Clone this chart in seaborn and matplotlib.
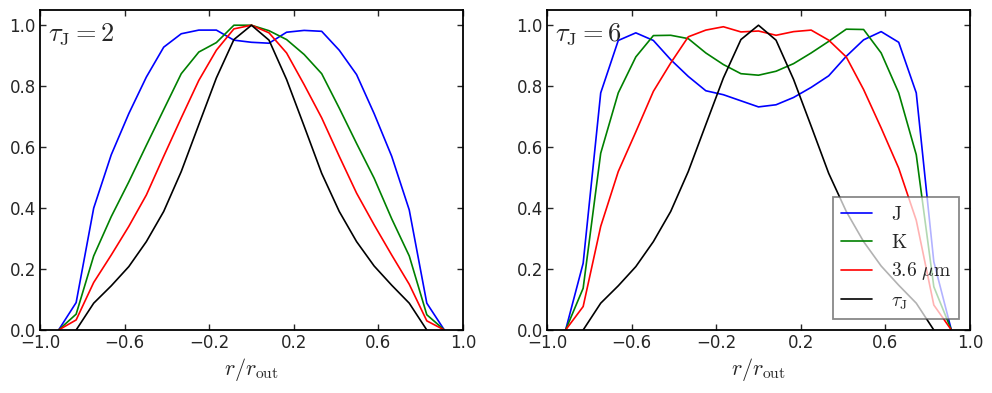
import numpy as np
import pandas as pd
import matplotlib
matplotlib.use("Agg")
import matplotlib.pyplot as plt
import seaborn as sns

sns.set_style("ticks", {"xtick.direction": "in", "ytick.direction": "in"})
plt.rcParams["font.family"] = ["DejaVu Sans"]
plt.rcParams["mathtext.fontset"] = "cm"

# radial grid r / r_out
r = [-0.912, -0.829, -0.746, -0.663, -0.580, -0.497, -0.415, -0.332, -0.249, -0.166, -0.083, 0.0,
     0.083, 0.166, 0.249, 0.332, 0.415, 0.497, 0.580, 0.663, 0.746, 0.829, 0.912]

# tau_J = 2
J2 = [0, 0.09, 0.40, 0.575, 0.71, 0.83, 0.928, 0.972, 0.984, 0.984, 0.951, 0.944,
      0.941, 0.977, 0.983, 0.98, 0.918, 0.838, 0.71, 0.57, 0.394, 0.088, 0]
K2 = [0, 0.052, 0.243, 0.372, 0.486, 0.606, 0.723, 0.841, 0.912, 0.943, 1.0, 1.0,
      0.982, 0.953, 0.904, 0.841, 0.728, 0.612, 0.498, 0.365, 0.243, 0.05, 0]
M2 = [0, 0.033, 0.156, 0.246, 0.34, 0.443, 0.57, 0.696, 0.819, 0.918, 0.988, 1.0,
      0.975, 0.909, 0.805, 0.696, 0.57, 0.449, 0.345, 0.246, 0.15, 0.03, 0]
T2 = [-0.088, 0.0, 0.088, 0.145, 0.208, 0.29, 0.389, 0.52, 0.674, 0.827, 0.953, 1.0,
      0.951, 0.822, 0.669, 0.514, 0.389, 0.29, 0.21, 0.147, 0.088, 0.0, -0.088]

# tau_J = 6
J6 = [0, 0.219, 0.778, 0.95, 0.975, 0.95, 0.887, 0.832, 0.785, 0.772, 0.752, 0.732,
      0.739, 0.763, 0.796, 0.834, 0.898, 0.952, 0.979, 0.944, 0.778, 0.224, 0]
K6 = [0, 0.137, 0.58, 0.778, 0.896, 0.966, 0.967, 0.956, 0.909, 0.871, 0.841, 0.836,
      0.849, 0.874, 0.909, 0.947, 0.987, 0.986, 0.909, 0.778, 0.575, 0.142, 0]
M6 = [0, 0.077, 0.34, 0.52, 0.65, 0.783, 0.876, 0.962, 0.984, 0.995, 0.978, 0.981,
      0.967, 0.979, 0.984, 0.951, 0.896, 0.789, 0.663, 0.531, 0.36, 0.082, 0]
T6 = [-0.088, 0.0, 0.088, 0.145, 0.208, 0.29, 0.389, 0.52, 0.674, 0.827, 0.953, 1.0,
      0.951, 0.822, 0.669, 0.514, 0.389, 0.29, 0.21, 0.147, 0.088, 0.0, -0.088]

bands = [r"$\rm J$", r"$\rm K$", r"$3.6\ \mu{\rm m}$", r"$\tau_{\rm J}$"]
colors = ["#0000ff", "#008000", "#ff0000", "#000000"]
panels = [(r"$\tau_{\rm J}=2$", [J2, K2, M2, T2]), (r"$\tau_{\rm J}=6$", [J6, K6, M6, T6])]

fig = plt.figure(figsize=(9.92, 3.93), dpi=100)
positions = [[0.0403, 0.1603, 0.4264, 0.8143], [0.5514, 0.1603, 0.4264, 0.8143]]

for i, (title, series) in enumerate(panels):
    ax = fig.add_axes(positions[i])
    df = pd.concat([pd.DataFrame({"r": r, "val": s, "band": b}) for s, b in zip(series, bands)])
    sns.lineplot(data=df, x="r", y="val", hue="band", palette=dict(zip(bands, colors)),
                 sort=False, estimator=None, linewidth=1.2, ax=ax, legend=(i == 1))
    ax.set_xlim(-1, 1)
    ax.set_ylim(0, 1.05)
    ax.set_xticks([-1.0, -0.6, -0.2, 0.2, 0.6, 1.0])
    ax.set_yticks([0.0, 0.2, 0.4, 0.6, 0.8, 1.0])
    ax.tick_params(top=True, right=True, direction="in", length=4, width=1, labelsize=12, pad=3)
    for sp in ax.spines.values():
        sp.set_linewidth(1.3)
        sp.set_color("black")
    ax.set_xlabel(r"$r/r_{\rm out}$", fontsize=16, labelpad=3)
    ax.set_ylabel("")
    ax.text(0.02, 0.965, title, transform=ax.transAxes, fontsize=19, va="top", ha="left")
    if i == 1:
        leg = ax.legend(loc="lower right", fontsize=14, frameon=True, framealpha=0.7,
                        handlelength=1.6, handletextpad=1.0, labelspacing=0.45,
                        borderaxespad=0.55, fancybox=False)
        leg.get_frame().set_edgecolor("#555555")
        leg.get_frame().set_linewidth(1.3)

fig.savefig("out.png", dpi=100)
